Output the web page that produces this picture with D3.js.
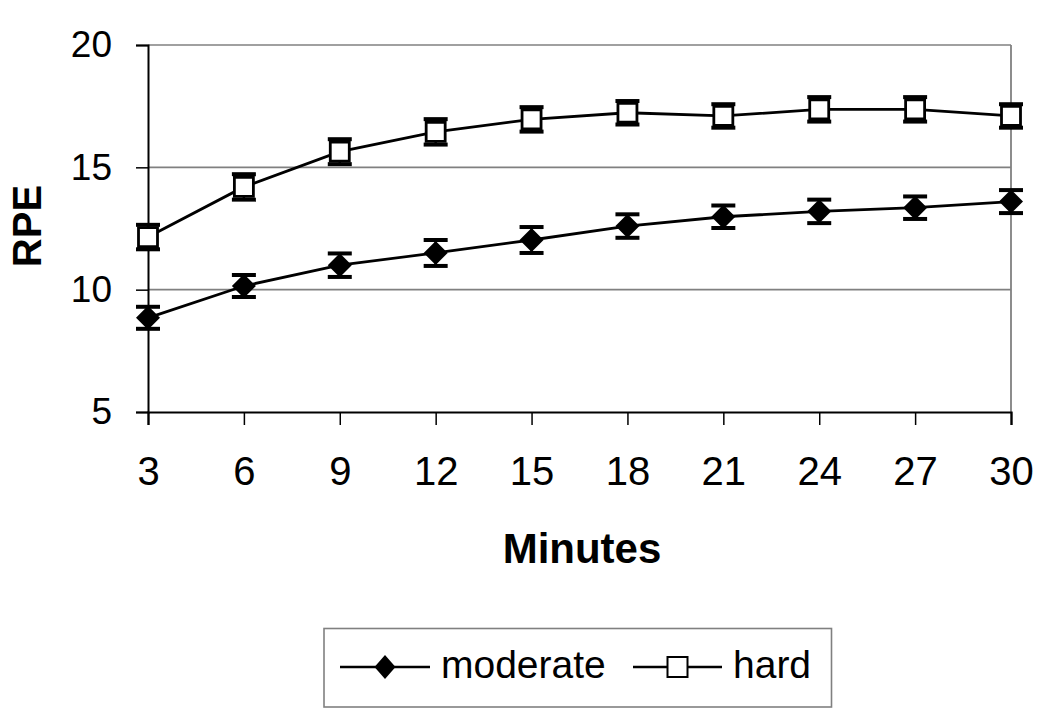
<!DOCTYPE html>
<html>
<head>
<meta charset="utf-8">
<script src="https://cdn.jsdelivr.net/npm/d3@7"></script>
<style>
  html, body { margin: 0; padding: 0; background: #fff; }
  svg { display: block; font-family: "Liberation Sans", Arial, sans-serif; }
</style>
</head>
<body>
<svg id="chart" width="1050" height="716"></svg>
<script>
// ---- data ----
const minutes = [3, 6, 9, 12, 15, 18, 21, 24, 27, 30];
const moderate = [8.85, 10.15, 11.0, 11.5, 12.03, 12.6, 12.98, 13.2, 13.35, 13.6];
const moderateErr = [0.45, 0.45, 0.48, 0.53, 0.53, 0.48, 0.46, 0.48, 0.46, 0.47];
const hard = [12.15, 14.2, 15.64, 16.45, 16.96, 17.23, 17.1, 17.37, 17.37, 17.1];
const hardErr = [0.5, 0.52, 0.51, 0.52, 0.5, 0.48, 0.48, 0.5, 0.5, 0.48];
const yTicks = [5, 10, 15, 20];
const seriesNames = ["moderate", "hard"];

const svg = d3.select("#chart");
const plotLeft = 148, plotRight = 1011, plotTop = 45, plotBottom = 412;

const x = d3.scaleLinear().domain([3, 30]).range([plotLeft, plotRight]);
const y = d3.scaleLinear().domain([5, 20]).range([plotBottom, plotTop]);

// gridlines and plot border
svg.append("g").selectAll("line").data(yTicks.filter(d => d !== 5)).join("line")
  .attr("x1", plotLeft).attr("x2", plotRight)
  .attr("y1", d => y(d)).attr("y2", d => y(d))
  .attr("stroke", "#808080").attr("stroke-width", 1.6);
svg.append("line").attr("x1", plotRight).attr("x2", plotRight).attr("y1", y(20)).attr("y2", y(5))
  .attr("stroke", "#808080").attr("stroke-width", 1.8);

// axes
const yAxis = svg.append("g").attr("transform", `translate(${plotLeft},0)`)
  .call(d3.axisLeft(y).tickValues(yTicks).tickSize(12).tickPadding(24).tickFormat(d3.format("d")));
yAxis.select(".domain").attr("stroke", "#000").attr("stroke-width", 2);
yAxis.selectAll(".tick line").attr("stroke", "#000").attr("stroke-width", 1.5);
yAxis.selectAll(".tick text").attr("font-size", 37).attr("fill", "#000")
  .attr("font-family", "Liberation Sans, Arial, sans-serif");

const xAxis = svg.append("g").attr("transform", `translate(0,${plotBottom})`)
  .call(d3.axisBottom(x).tickValues(minutes).tickSize(13).tickPadding(32).tickFormat(d3.format("d")));
xAxis.select(".domain").attr("stroke", "#000").attr("stroke-width", 2.2);
xAxis.selectAll(".tick line").attr("stroke", "#000").attr("stroke-width", 1.5);
xAxis.selectAll(".tick text").attr("font-size", 40).attr("fill", "#000")
  .attr("font-family", "Liberation Sans, Arial, sans-serif");

// axis titles
svg.append("text").attr("transform", `translate(41,226) rotate(-90)`)
  .attr("text-anchor", "middle").attr("font-weight", "bold").attr("font-size", 40).text("RPE");
svg.append("text").attr("x", 582).attr("y", 563)
  .attr("text-anchor", "middle").attr("font-weight", "bold").attr("font-size", 42).text("Minutes");

const line = d3.line().x((d, i) => x(minutes[i])).y(d => y(d));
const series = [
  { name: seriesNames[0], values: moderate, err: moderateErr, marker: "diamond" },
  { name: seriesNames[1], values: hard, err: hardErr, marker: "square" }
];

series.forEach(s => {
  const g = svg.append("g");
  g.append("path").datum(s.values).attr("d", line)
    .attr("fill", "none").attr("stroke", "#000").attr("stroke-width", 2.8);
  const eb = g.append("g").selectAll("g").data(s.values.map((v, i) => ({ v, e: s.err[i], m: minutes[i] }))).join("g");
  eb.append("line").attr("x1", d => x(d.m)).attr("x2", d => x(d.m))
    .attr("y1", d => y(d.v + d.e)).attr("y2", d => y(d.v - d.e))
    .attr("stroke", "#000").attr("stroke-width", 2.5);
  [1, -1].forEach(sign => {
    eb.append("line").attr("x1", d => x(d.m) - 12).attr("x2", d => x(d.m) + 12)
      .attr("y1", d => y(d.v + sign * d.e)).attr("y2", d => y(d.v + sign * d.e))
      .attr("stroke", "#000").attr("stroke-width", 4);
  });
  const mk = g.append("g").selectAll("path").data(s.values).join("path")
    .attr("transform", (d, i) => `translate(${x(minutes[i])},${y(d)})`);
  if (s.marker === "diamond") {
    mk.attr("d", "M0,-12 L12,0 L0,12 L-12,0 Z").attr("fill", "#000");
  } else {
    mk.attr("d", "M-9.5,-9.5 H9.5 V9.5 H-9.5 Z").attr("fill", "#fff")
      .attr("stroke", "#000").attr("stroke-width", 2.8);
  }
});

// legend
const lg = svg.append("g");
lg.append("rect").attr("x", 324).attr("y", 628.5).attr("width", 507.5).attr("height", 78.5)
  .attr("fill", "#fff").attr("stroke", "#808080").attr("stroke-width", 1.6);
const legendItems = [
  { name: seriesNames[0], x1: 340, x2: 430, tx: 441, marker: "diamond" },
  { name: seriesNames[1], x1: 633, x2: 722, tx: 733, marker: "square" }
];
legendItems.forEach(it => {
  const cy = 667;
  const cx = (it.x1 + it.x2) / 2;
  lg.append("line").attr("x1", it.x1).attr("x2", it.x2).attr("y1", cy).attr("y2", cy)
    .attr("stroke", "#000").attr("stroke-width", 2.4);
  if (it.marker === "diamond") {
    lg.append("path").attr("d", `M${cx},${cy - 12} L${cx + 10.5},${cy} L${cx},${cy + 12} L${cx - 10.5},${cy} Z`).attr("fill", "#000");
  } else {
    lg.append("rect").attr("x", cx - 10).attr("y", cy - 10).attr("width", 20).attr("height", 20)
      .attr("fill", "#fff").attr("stroke", "#000").attr("stroke-width", 2);
  }
  lg.append("text").attr("x", it.tx).attr("y", 678).attr("font-size", 39).text(it.name);
});
</script>
</body>
</html>
